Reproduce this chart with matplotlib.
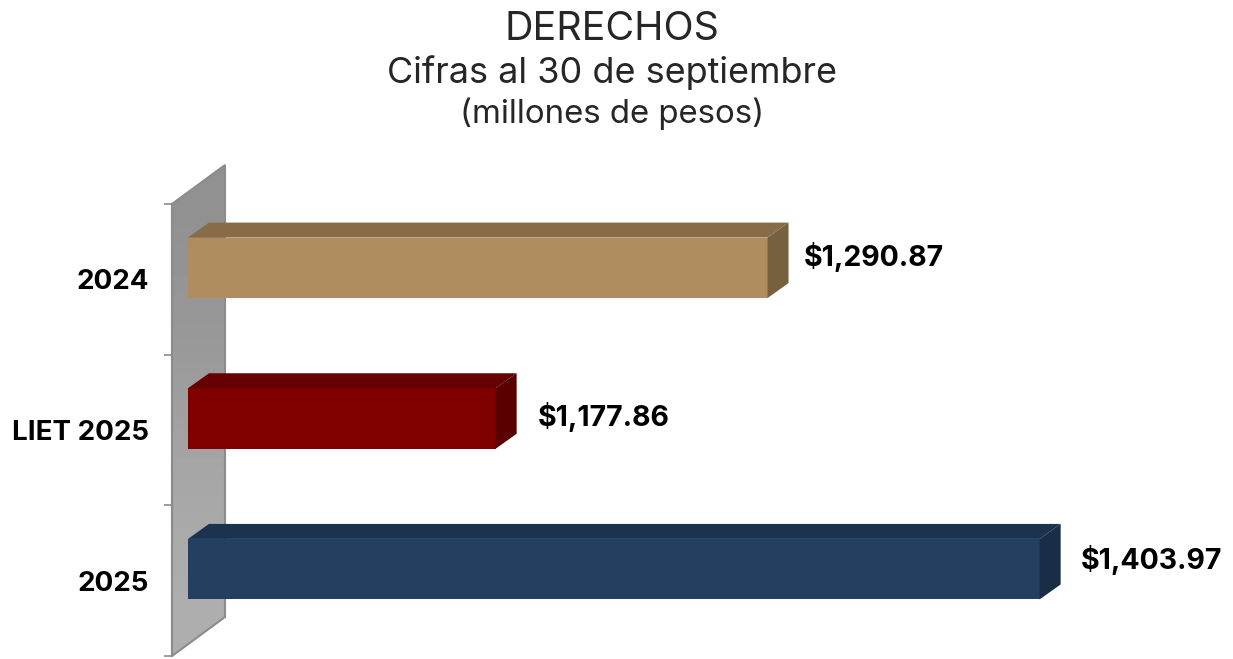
import matplotlib
matplotlib.use("Agg")
import matplotlib.pyplot as plt
import numpy as np
from matplotlib.patches import Polygon

categories = ["2024", "LIET 2025", "2025"]
values = [1290.87, 1177.86, 1403.97]
value_labels = ["$1,290.87", "$1,177.86", "$1,403.97"]
front_colors = ["#B08D5F", "#800000", "#244061"]
top_colors = ["#876C47", "#660000", "#1C3350"]
side_colors = ["#77603F", "#5A0000", "#192D46"]
label_offsets_px = [(15, 11), (21, 1), (20, 9)]
title_lines = ["DERECHOS", "Cifras al 30 de septiembre", "(millones de pesos)"]
title_widths_px = [215, 450, 305]
title_ys = [30, 73, 114]

W, H = 1233, 659
FONT = "Inter"
plt.rcParams["font.family"] = [FONT, "DejaVu Sans"]
fig = plt.figure(figsize=(W / 100, H / 100), dpi=100, facecolor="white")
ax = fig.add_axes([172 / W, 1 - 656 / H, (W - 172) / W, (656 - 204) / H])
ax.patch.set_visible(False)

PX_PER_VALUE = 2.406
BASE = 1050.0
xlim = (BASE - 16 / PX_PER_VALUE, BASE + (W - 188) / PX_PER_VALUE)
ylim = (2.5, -0.5)
UNIT_Y = (656 - 204) / 3
depth_x = 21 / PX_PER_VALUE
depth_y = 15 / UNIT_Y
shift_y = -11.5 / UNIT_Y
bar_h = 60.5 / UNIT_Y

# back wall with a soft vertical shading
wall_l = xlim[0]
wall_r = wall_l + 53 / PX_PER_VALUE
wall_rise = 39 / UNIT_Y
wall = Polygon([(wall_l, -0.5), (wall_r, -0.5 - wall_rise),
                (wall_r, 2.5 - wall_rise), (wall_l, 2.5)],
               closed=True, facecolor="none", edgecolor="#8C8C8C",
               linewidth=1.5, clip_on=False, zorder=1.5)
ax.add_patch(wall)
shade = np.array([[0.57], [0.60], [0.65], [0.68]])
im = ax.imshow(shade, cmap="gray", vmin=0, vmax=1, aspect="auto", zorder=1,
               extent=(wall_l, wall_r, 2.5, -0.5 - wall_rise), interpolation="bilinear")
im.set_clip_box(fig.bbox)
im.set_clip_path(wall)
ax.set_xlim(*xlim)
ax.set_ylim(*ylim)

ys = [i + shift_y for i in range(len(values))]
ax.barh(ys, [v - BASE for v in values], left=BASE, height=bar_h,
        color=front_colors, linewidth=0, zorder=3)
for y, v, top, side, label, off in zip(ys, values, top_colors, side_colors, value_labels, label_offsets_px):
    t = y - bar_h / 2
    b = y + bar_h / 2
    ax.add_patch(Polygon([(BASE, t), (BASE + depth_x, t - depth_y),
                          (v + depth_x, t - depth_y), (v, t)],
                         closed=True, facecolor=top, linewidth=0, zorder=3, clip_on=False))
    ax.add_patch(Polygon([(v, t), (v + depth_x, t - depth_y),
                          (v + depth_x, b - depth_y), (v, b)],
                         closed=True, facecolor=side, linewidth=0, zorder=3, clip_on=False))
    ax.annotate(label.replace("$", r"\$"), (v + depth_x, y),
                xytext=(off[0] * 0.72, off[1] * 0.72),
                textcoords="offset points", ha="left", va="center",
                fontsize=20.5, fontweight="bold", color="black", clip_on=False)

for s in ["top", "right", "bottom"]:
    ax.spines[s].set_visible(False)
ax.spines["left"].set_color("#8C8C8C")
ax.spines["left"].set_linewidth(1.5)
ax.spines["left"].set_zorder(2)
ax.xaxis.set_visible(False)
ax.set_yticks([-0.5, 0.5, 1.5, 2.5])
ax.set_yticklabels([])
ax.set_yticks(range(len(categories)), minor=True)
ax.set_yticklabels(categories, minor=True, fontsize=20, fontweight="bold", color="black")
ax.tick_params(axis="y", which="major", length=5.5, width=1.2, color="#8C8C8C")
ax.tick_params(axis="y", which="minor", length=0, pad=16.5)

renderer = fig.canvas.get_renderer()
for line, width_px, y in zip(title_lines, title_widths_px, title_ys):
    txt = fig.text(612 / W, 1 - y / H, line, ha="center", va="center", fontsize=20, color="#262626")
    txt.set_fontsize(20 * width_px / txt.get_window_extent(renderer).width)

fig.savefig("out.png", dpi=100)
